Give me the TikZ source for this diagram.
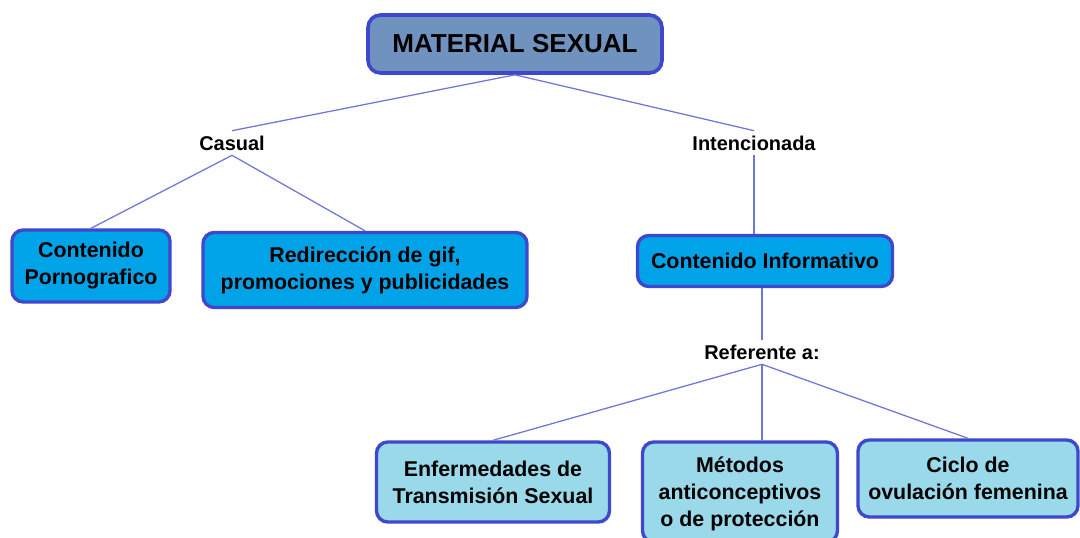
\documentclass[tikz,border=0pt]{standalone}
\usepackage{fontspec}
\setmainfont{Liberation Sans}
\usepackage{xcolor}
\usetikzlibrary{positioning}

\definecolor{indigo}{RGB}{63,72,204}
\definecolor{bluegray}{RGB}{112,146,190}
\definecolor{turquoise}{RGB}{0,162,232}
\definecolor{lightturq}{RGB}{153,217,234}

\begin{document}
\begin{tikzpicture}[
    topbox/.style={rectangle, rounded corners=9pt, draw=indigo, line width=2.6pt, fill=bluegray, minimum width=7.35cm, minimum height=1.45cm, align=center, font=\bfseries\fontsize{18.5}{22}\selectfont},
    midbox/.style={rectangle, rounded corners=8pt, draw=indigo, line width=2.4pt, fill=turquoise, align=center, inner sep=0pt, font=\bfseries\fontsize{15.2}{19.2}\selectfont},
    lowbox/.style={midbox, fill=lightturq},
    lbl/.style={align=center, font=\bfseries\fontsize{14.2}{17}\selectfont},
    conn/.style={draw=indigo!75, line width=0.9pt}
]
\useasboundingbox (0,0) rectangle (27,13.425);

% Root
\node[topbox] (material) at (12.875, 12.325) {MATERIAL SEXUAL};

% First level
\node[lbl] (casual) at (5.8, 9.85) {Casual};
\node[lbl] (intencionada) at (18.85, 9.85) {Intencionada};

% Casual branch
\node[midbox, minimum width=3.95cm, minimum height=1.8cm] (porno) at (2.275, 6.775) {Contenido\\Pornografico};
\node[midbox, minimum width=8.1cm, minimum height=1.875cm] (redir) at (9.125, 6.675) {Redirecci\'on de gif,\\promociones y publicidades};

% Intencionada branch
\node[midbox, minimum width=6.375cm, minimum height=1.275cm] (info) at (19.125, 6.9) {Contenido Informativo};
\node[lbl] (referente) at (19.05, 4.625) {Referente a:};

% Topics
\node[lowbox, minimum width=5.825cm, minimum height=2cm] (ets) at (12.325, 1.375) {Enfermedades de\\Transmisi\'on Sexual};
\node[lowbox, minimum width=4.875cm, minimum height=2.5cm, text depth=0pt] (metodos) at (18.5, 1.125) {M\'etodos\\anticonceptivos\\o de protecci\'on};
\node[lowbox, minimum width=5.5cm, minimum height=1.925cm] (ciclo) at (24.2, 1.4625) {Ciclo de\\ovulaci\'on femenina};

% Connectors
\draw[conn] (material.south) -- (casual.north);
\draw[conn] (material.south) -- (intencionada.north);
\draw[conn] (casual.south) -- (porno.north);
\draw[conn] (casual.south) -- (redir.north);
\draw[conn] (intencionada.south) -- (intencionada.south |- info.north);
\draw[conn] (referente.north |- info.south) -- (referente.north);
\draw[conn] (referente.south) -- (ets.north);
\draw[conn] (referente.south) -- (referente.south |- metodos.north);
\draw[conn] (referente.south) -- (ciclo.north);

\end{tikzpicture}
\end{document}
